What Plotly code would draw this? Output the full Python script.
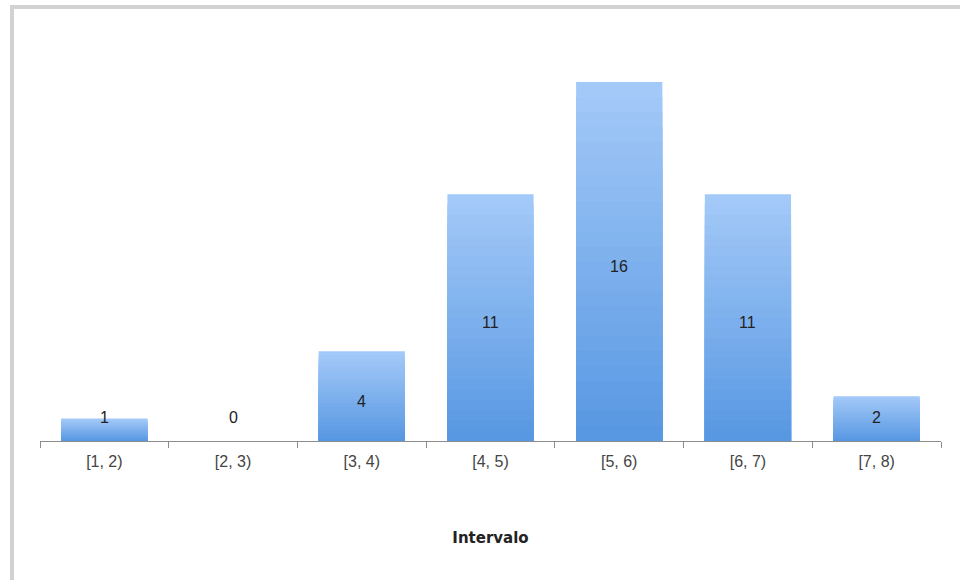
import plotly.graph_objects as go

categories = ["[1, 2)", "[2, 3)", "[3, 4)", "[4, 5)", "[5, 6)", "[6, 7)", "[7, 8)"]
counts = [1, 0, 4, 11, 16, 11, 2]
x_title = "Intervalo"

top_rgb = (163, 201, 248)
bot_rgb = (88, 152, 226)
N = 24

fig = go.Figure()
for k in range(N):
    frac = 1 - k / N
    t = k / (N - 1)
    c = tuple(round(top_rgb[i] + (bot_rgb[i] - top_rgb[i]) * t) for i in range(3))
    fig.add_trace(go.Bar(
        x=categories, y=[v * frac for v in counts],
        marker=dict(color="rgb(%d,%d,%d)" % c, line=dict(width=0)),
        hoverinfo="skip", showlegend=False,
    ))

for cat, v in zip(categories, counts):
    fig.add_annotation(x=cat, y=max(v / 2, 1.25), text=str(v), showarrow=False,
                       yshift=-5, font=dict(family="Liberation Sans, Arial", size=16, color="#222222"))

fig.update_layout(
    barmode="overlay", bargap=0.33,
    width=960, height=580,
    margin=dict(l=40, r=19, t=82, b=139),
    paper_bgcolor="white", plot_bgcolor="white",
    xaxis=dict(
        showline=True, linecolor="#8c8c8c", linewidth=1,
        ticks="outside", tickson="boundaries", ticklen=6, tickcolor="#8c8c8c",
        ticklabelstandoff=6,
        tickfont=dict(family="Liberation Sans, Arial", size=16, color="#444444"),
        title=dict(text="<b>" + x_title + "</b>", standoff=63,
                   font=dict(family="DejaVu Sans", size=15, color="#222222")),
        showgrid=False,
    ),
    yaxis=dict(visible=False, range=[0, 16], fixedrange=True),
    shapes=[dict(type="rect", xref="paper", yref="paper",
                 x0=(12 - 40) / 901, x1=1.2, y0=-0.5, y1=(441 - 7) / 359,
                 line=dict(color="#d2d2d2", width=4), fillcolor="rgba(0,0,0,0)", layer="below")],
)

fig.write_html("out.html")
